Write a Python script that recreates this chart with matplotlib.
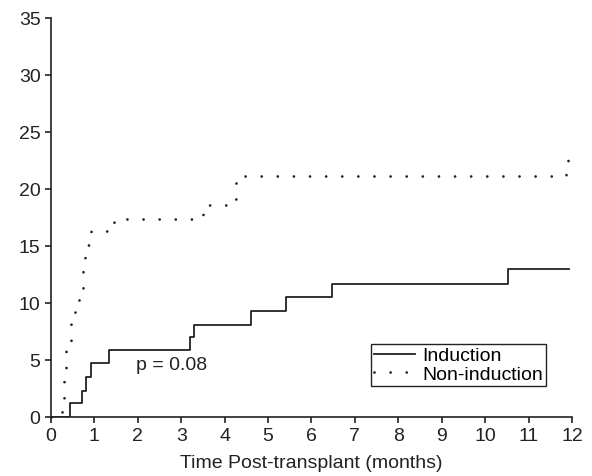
import matplotlib
matplotlib.use("Agg")
import matplotlib.pyplot as plt

plt.rcParams['font.family'] = ['Liberation Sans', 'DejaVu Sans']

# Induction: step times (months) and cumulative incidence (%)
ind_t = [0, 0.43, 0.71, 0.81, 0.92, 1.34, 3.21, 3.29, 4.6, 5.41, 6.47, 10.53, 11.94]
ind_y = [0, 1.2, 2.3, 3.5, 4.7, 5.9, 7.0, 8.1, 9.3, 10.5, 11.7, 13.0, 13.0]

# Non-induction
non_t = [0, 0.25, 0.3, 0.35, 0.45, 0.55, 0.65, 0.74, 0.78, 0.92, 1.29, 1.45,
         3.3, 3.5, 4.18, 4.26, 4.48, 11.86, 11.9, 11.9]
non_y = [0, 1.2, 3.5, 5.9, 8.2, 9.4, 10.6, 12.9, 15.1, 16.3, 16.6, 17.4,
         17.6, 18.6, 19.1, 20.5, 21.1, 22.1, 23.6, 23.6]

fig = plt.figure(figsize=(5.92, 4.77), dpi=100)
ax = fig.add_axes([0.0861, 0.1237, 0.8801, 0.8365])

ax.step(ind_t, ind_y, where='post', color='#222222', lw=1.3, label='Induction')
ax.step(non_t, non_y, where='post', color='#222222', lw=2.0,
        linestyle=(0, (0.001, 5.8)), dash_capstyle='round',
        clip_on=False, label='Non-induction')

ax.set_xlim(0, 12)
ax.set_ylim(0, 35)
ax.set_xticks(range(0, 13))
ax.set_yticks(range(0, 36, 5))
for s in ['top', 'right']:
    ax.spines[s].set_visible(False)
for s in ['left', 'bottom']:
    ax.spines[s].set_linewidth(1.2)
    ax.spines[s].set_color('#222222')
ax.tick_params(direction='out', length=4.5, width=1.2, pad=3, labelsize=14,
               colors='#222222')
ax.set_xlabel('Time Post-transplant (months)', fontsize=14, color='#222222', labelpad=7)

ax.text(1.96, 4.6, 'p = 0.08', fontsize=14, color='#222222', va='center')

leg = ax.legend(loc='lower left', bbox_to_anchor=(0.614, 0.078), fontsize=14,
                frameon=True, fancybox=False, edgecolor='#222222', framealpha=1,
                handlelength=2.1, borderpad=0.15, labelspacing=0.05, handletextpad=0.4,
                borderaxespad=0)
leg.get_frame().set_linewidth(1.0)

fig.savefig('out.png', dpi=100)
